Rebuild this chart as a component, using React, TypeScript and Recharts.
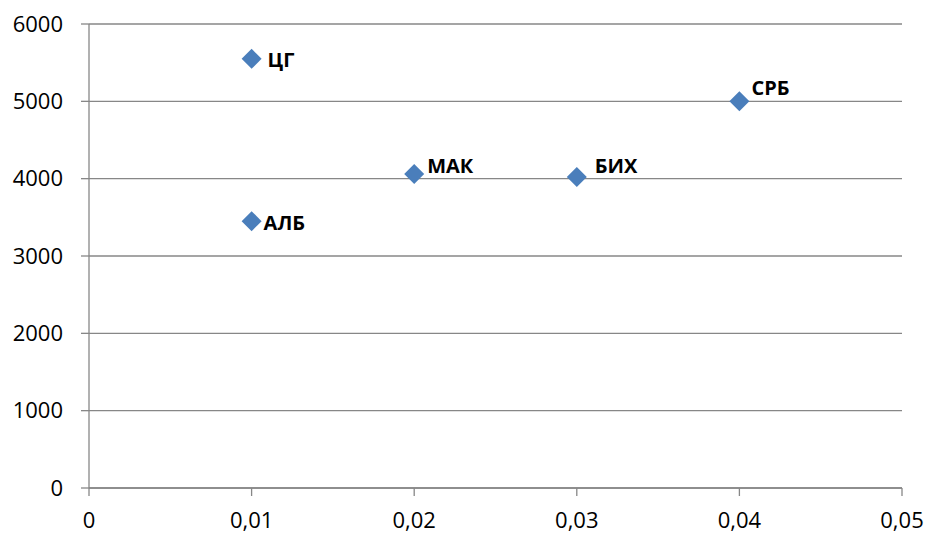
import React from 'react';
import { ScatterChart, Scatter, XAxis, YAxis, CartesianGrid } from 'recharts';

const countries = ['ЦГ', 'АЛБ', 'МАК', 'БИХ', 'СРБ'];
const xValues = [0.01, 0.01, 0.02, 0.03, 0.04];
const yValues = [5550, 3450, 4060, 4020, 5000];
const xTicks = [0, 0.01, 0.02, 0.03, 0.04, 0.05];
const yTicks = [0, 1000, 2000, 3000, 4000, 5000, 6000];

// label placement next to each marker (text start / baseline)
const labelOffsets: Record<string, [number, number]> = {
  'ЦГ': [16, 8],
  'АЛБ': [12, 9],
  'МАК': [13, -1],
  'БИХ': [18, -4],
  'СРБ': [12, -6],
};

const chartData = countries.map((name, i) => ({ name, x: xValues[i], y: yValues[i] }));

const GRID = '#878787';
const font = '"Open Sans", sans-serif';

const DiamondWithLabel = (props: any) => {
  const { cx, cy, payload } = props;
  const r = 10;
  const [dx, dy] = labelOffsets[payload.name] || [12, 0];
  return (
    <g>
      <polygon
        points={`${cx},${cy - r} ${cx + r},${cy} ${cx},${cy + r} ${cx - r},${cy}`}
        fill="#4a7ebb"
      />
      <text x={cx + dx} y={cy + dy} fontFamily={font} fontWeight="bold" fontSize={20} fill="#000">
        {payload.name}
      </text>
    </g>
  );
};

const fmt = (v: number) => String(v).replace('.', ',');

const App: React.FC = () => {
  return (
    <div style={{ position: 'absolute', left: 0, top: 0, background: '#fff' }}>
      <ScatterChart width={928} height={534} margin={{ top: 24, right: 26, left: 0, bottom: 0 }}>
        <CartesianGrid vertical={false} stroke={GRID} strokeWidth={1.3} />
        <XAxis
          type="number"
          dataKey="x"
          domain={[0, 0.05]}
          ticks={xTicks}
          tickFormatter={fmt}
          height={46}
          stroke={GRID}
          strokeWidth={1.3}
          tickSize={8}
          tickMargin={16}
          tick={{ fill: '#000', fontSize: 22, fontFamily: font }}
          interval={0}
        />
        <YAxis
          type="number"
          dataKey="y"
          domain={[0, 6000]}
          ticks={yTicks}
          width={89}
          stroke={GRID}
          strokeWidth={1.3}
          tickSize={8}
          tickMargin={18}
          tick={{ fill: '#000', fontSize: 22, fontFamily: font }}
          interval={0}
        />
        <Scatter data={chartData} shape={DiamondWithLabel} isAnimationActive={false} />
      </ScatterChart>
    </div>
  );
};

export default App;
